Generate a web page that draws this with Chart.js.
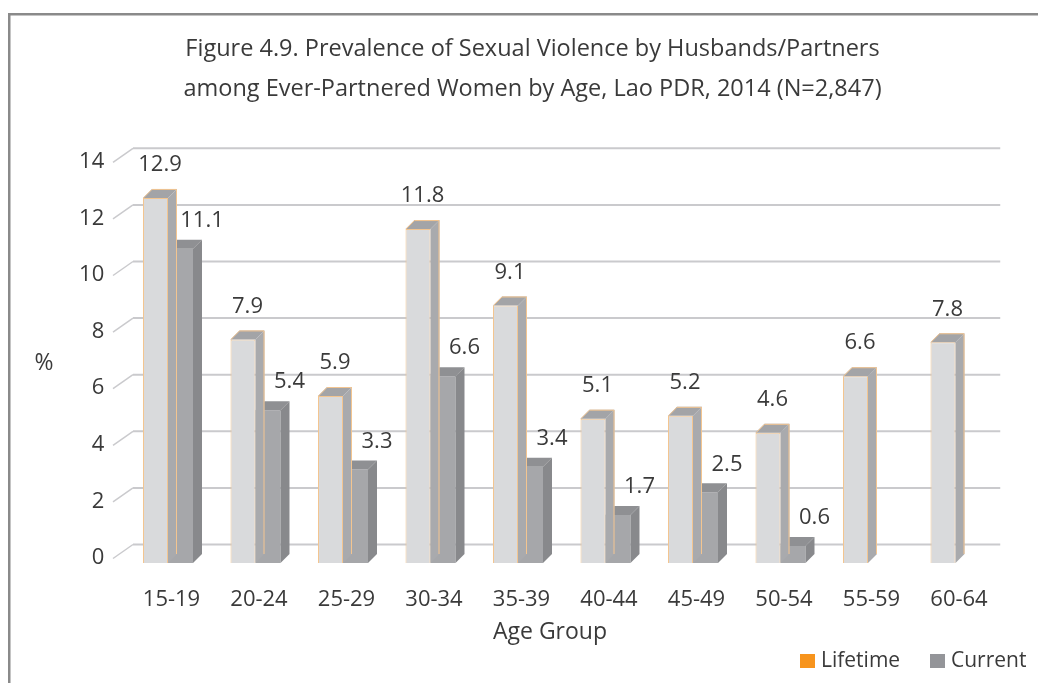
<!DOCTYPE html>
<html>
<head>
<meta charset="utf-8">
<script src="https://cdn.jsdelivr.net/npm/chart.js@4.4.0/dist/chart.umd.min.js"></script>
<style>
  html, body { margin: 0; padding: 0; background: #ffffff; }
  #wrap { width: 1038px; height: 683px; position: relative; }
</style>
</head>
<body>
<div id="wrap"><canvas id="c" width="1038" height="683"></canvas></div>
<script>
// ---- Data ----
const categories = ['15-19', '20-24', '25-29', '30-34', '35-39', '40-44', '45-49', '50-54', '55-59', '60-64'];
const lifetime = [12.9, 7.9, 5.9, 11.8, 9.1, 5.1, 5.2, 4.6, 6.6, 7.8];
const current  = [11.1, 5.4, 3.3, 6.6, 3.4, 1.7, 2.5, 0.6, null, null];
const yTickValues = [0, 2, 4, 6, 8, 10, 12, 14];
const seriesNames = ['Lifetime', 'Current'];
const titleLines = ['Figure 4.9. Prevalence of Sexual Violence by Husbands/Partners',
                    'among Ever-Partnered Women by Age, Lao PDR, 2014 (N=2,847)'];
const xTitle = 'Age Group';
const yTitle = '%';

// ---- Styles ----
const FONT = '"Open Sans", "Noto Sans", sans-serif';
const TEXT = '#3a3a3a';
const DEPTH = 9;
const faces = [
  { front: '#d9dadc', side: '#a9aaad', top: '#a3a4a7', edge: '#f3c590' },
  { front: '#a6a7aa', side: '#88898c', top: '#8f9093', edge: null }
];
const legendSwatch = ['#f7941d', '#949599'];

const threeD = {
  id: 'threeD',
  beforeDraw(chart) {
    const ctx = chart.ctx;
    ctx.save();
    ctx.fillStyle = '#ffffff';
    ctx.fillRect(0, 0, chart.width, chart.height);
    ctx.strokeStyle = '#8a8a8a';
    ctx.lineWidth = 2.5;
    ctx.strokeRect(9.25, 14.25, 1200, 900);
    ctx.restore();
  },
  beforeDatasetsDraw(chart) {
    const ctx = chart.ctx;
    const y = chart.scales.y;
    const area = chart.chartArea;
    ctx.save();
    ctx.strokeStyle = '#cacacd';
    yTickValues.forEach(v => {
      const yf = y.getPixelForValue(v);
      const yb = yf - 18.5;
      ctx.lineWidth = 1.5;
      ctx.beginPath();
      ctx.moveTo(113, yf - 4.5);
      ctx.lineTo(133, yb);
      ctx.stroke();
      ctx.lineWidth = 2;
      ctx.beginPath();
      ctx.moveTo(133, yb);
      ctx.lineTo(area.right + 1, yb);
      ctx.stroke();
    });
    ctx.restore();
  },
  afterDatasetDraw(chart, args) {
    const ctx = chart.ctx;
    const f = faces[args.index];
    const meta = args.meta;
    ctx.save();
    meta.data.forEach((el, i) => {
      const val = chart.data.datasets[args.index].data[i];
      if (val === null || val === undefined) return;
      const p = el.getProps(['x', 'y', 'base', 'width'], true);
      const l = p.x - p.width / 2, r = p.x + p.width / 2, t = p.y, b = p.base;
      // side face
      ctx.fillStyle = f.side;
      ctx.beginPath();
      ctx.moveTo(r, t); ctx.lineTo(r + DEPTH, t - DEPTH);
      ctx.lineTo(r + DEPTH, b - DEPTH); ctx.lineTo(r, b);
      ctx.closePath(); ctx.fill();
      // top face
      ctx.fillStyle = f.top;
      ctx.beginPath();
      ctx.moveTo(l, t); ctx.lineTo(l + DEPTH, t - DEPTH);
      ctx.lineTo(r + DEPTH, t - DEPTH); ctx.lineTo(r, t);
      ctx.closePath(); ctx.fill();
      if (f.edge) {
        ctx.strokeStyle = f.edge;
        ctx.lineWidth = 1;
        ctx.beginPath();
        ctx.moveTo(l + 0.5, t); ctx.lineTo(l + DEPTH, t - DEPTH + 0.5);
        ctx.lineTo(r + DEPTH - 0.5, t - DEPTH + 0.5);
        ctx.lineTo(r + DEPTH - 0.5, b - DEPTH);
        ctx.stroke();
      }
    });
    ctx.restore();
  },
  afterDatasetsDraw(chart) {
    const ctx = chart.ctx;
    ctx.save();
    ctx.fillStyle = TEXT;
    ctx.font = '22px ' + FONT;
    ctx.textAlign = 'center';
    ctx.textBaseline = 'middle';
    chart.data.datasets.forEach((ds, di) => {
      const meta = chart.getDatasetMeta(di);
      meta.data.forEach((el, i) => {
        const v = ds.data[i];
        if (v === null || v === undefined) return;
        const dx = di === 0 ? DEPTH / 2 : DEPTH / 2 + 17;
        const dy = di === 0 ? -33 : -28;
        ctx.fillText(v.toFixed(1), el.x + dx, el.y + dy);
      });
    });
    // axis titles
    ctx.font = '23px ' + FONT;
    ctx.fillText(xTitle, 550, 632);
    ctx.fillText(yTitle, 44, 363);
    // legend
    ctx.textAlign = 'left';
    ctx.font = '21px ' + FONT;
    const lx = [800, 930];
    seriesNames.forEach((n, i) => {
      ctx.fillStyle = legendSwatch[i];
      ctx.fillRect(lx[i], 654, 15, 14);
      ctx.fillStyle = TEXT;
      ctx.fillText(n, lx[i] + 21, 661);
    });
    ctx.restore();
  }
};

new Chart(document.getElementById('c'), {
  type: 'bar',
  data: {
    labels: categories,
    datasets: [
      { label: seriesNames[0], data: lifetime, backgroundColor: faces[0].front,
        borderColor: faces[0].edge, borderWidth: 1, barPercentage: 1, categoryPercentage: 0.5714 },
      { label: seriesNames[1], data: current, backgroundColor: faces[1].front,
        borderWidth: 0, barPercentage: 1, categoryPercentage: 0.5714 }
    ]
  },
  options: {
    responsive: false,
    animation: false,
    devicePixelRatio: 1,
    layout: { padding: { left: 65.75, right: 38.75, top: 0, bottom: 0 } },
    plugins: {
      legend: { display: false },
      tooltip: { enabled: false },
      title: {
        display: true,
        text: titleLines,
        color: TEXT,
        font: { family: FONT, size: 23.5, weight: 'normal', lineHeight: 40 / 23.5 },
        padding: { top: 29, bottom: 57.8 }
      }
    },
    scales: {
      x: {
        grid: { display: false, drawTicks: false },
        border: { display: false },
        ticks: { color: TEXT, font: { family: FONT, size: 22 }, padding: 24, labelOffset: 3.5, maxRotation: 0, autoSkip: false },
        afterFit(s) { s.height = 120; }
      },
      y: {
        min: 0, max: 14,
        grid: { display: false, drawTicks: false },
        border: { display: false },
        afterBuildTicks(s) { s.ticks = yTickValues.map(v => ({ value: v })); },
        ticks: { color: TEXT, font: { family: FONT, size: 22 }, padding: 20, labelOffset: -5 },
        afterFit(s) { s.width = 58.5; }
      }
    }
  },
  plugins: [threeD]
});
</script>
</body>
</html>
